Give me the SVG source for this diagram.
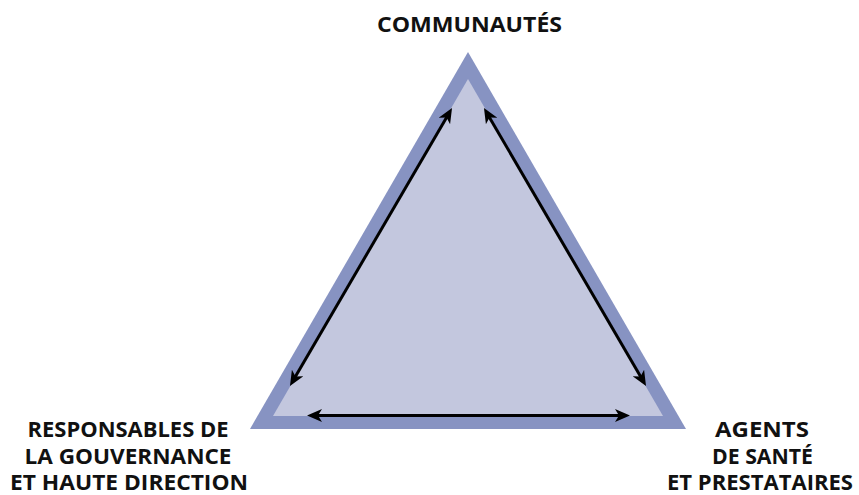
<svg xmlns="http://www.w3.org/2000/svg" width="859" height="495" viewBox="0 0 859 495">
<style>
.lbl{font-family:"Open Sans","Liberation Sans",sans-serif;font-weight:700;font-size:20.5px;fill:#111;text-anchor:middle}
.conn{stroke:#000;stroke-width:3;fill:none}
</style>
<defs>
<marker id="ah" viewBox="0 -7 16 14" refX="7" refY="0" markerWidth="16" markerHeight="14" markerUnits="userSpaceOnUse" orient="auto-start-reverse">
<path d="M15,0 L0,-6.5 L4,0 L0,6.5 Z" fill="#000"/>
</marker>
</defs>
<rect width="859" height="495" fill="#fff"/>
<g id="triangle">
<polygon points="468,52 250,429 686,429" fill="#8793C2"/>
<polygon points="468,79 273,416 663,416" fill="#C3C7DE"/>
</g>
<g id="connectors">
<line class="conn" x1="448" y1="114.9" x2="294" y2="379.1" marker-start="url(#ah)" marker-end="url(#ah)"/>
<line class="conn" x1="488" y1="114.9" x2="642" y2="379.1" marker-start="url(#ah)" marker-end="url(#ah)"/>
<line class="conn" x1="315" y1="415.5" x2="622" y2="415.5" marker-start="url(#ah)" marker-end="url(#ah)"/>
</g>
<g id="communautes">
<text class="lbl" x="469.5" y="32" textLength="185" lengthAdjust="spacingAndGlyphs">COMMUNAUTÉS</text>
</g>
<g id="responsables">
<text class="lbl" x="128" y="437" textLength="201" lengthAdjust="spacingAndGlyphs">RESPONSABLES DE</text>
<text class="lbl" x="128" y="463.5" textLength="207" lengthAdjust="spacingAndGlyphs">LA GOUVERNANCE</text>
<text class="lbl" x="129" y="489.5" textLength="238" lengthAdjust="spacingAndGlyphs">ET HAUTE DIRECTION</text>
</g>
<g id="agents">
<text class="lbl" x="762" y="437" textLength="94" lengthAdjust="spacingAndGlyphs">AGENTS</text>
<text class="lbl" x="762.5" y="463.5" textLength="101" lengthAdjust="spacingAndGlyphs">DE SANTÉ</text>
<text class="lbl" x="760" y="489.5" textLength="186" lengthAdjust="spacingAndGlyphs">ET PRESTATAIRES</text>
</g>
</svg>
